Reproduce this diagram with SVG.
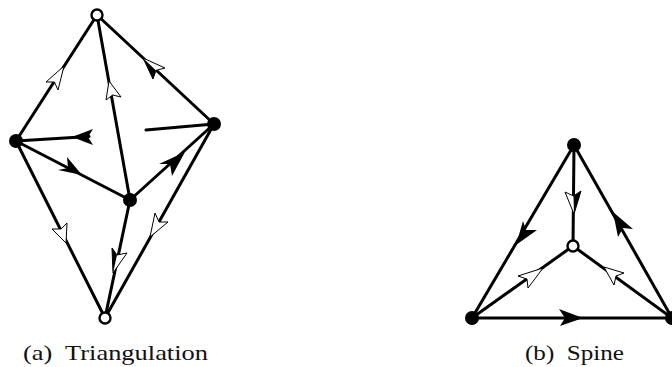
<svg xmlns="http://www.w3.org/2000/svg" width="672" height="367" viewBox="0 0 672 367">
<style>
.e{stroke:#000;stroke-width:3;fill:none;stroke-linecap:round}
.w{fill:#fff;stroke:#000;stroke-width:1;stroke-linejoin:miter}
.b{fill:#000;stroke:none}
.f{fill:#000}
.o{fill:#fff;stroke:#000;stroke-width:2.4}
text{font-family:"Liberation Serif","Times New Roman",serif;font-size:21px;fill:#111}
</style>
<g id="connectors">
<path class="e" d="M16 141L97 15"/>
<path class="e" d="M130 200L97 15"/>
<path class="e" d="M214 124L97 15"/>
<path class="e" d="M16 141L89 136.500"/>
<path class="e" d="M214 124L146 130"/>
<path class="e" d="M16 141L130 200"/>
<path class="e" d="M130 200L214 124"/>
<path class="e" d="M16 141L105 318"/>
<path class="e" d="M130 200L105 318"/>
<path class="e" d="M214 124L105 318"/>
<path class="e" d="M574 145L472 318"/>
<path class="e" d="M574 145L573 246"/>
<path class="e" d="M672 318L574 145"/>
<path class="e" d="M472 318L573 246"/>
<path class="e" d="M672 318L573 246"/>
<path class="e" d="M472 318L672 318"/>
<path class="w" d="M64 66L46 82L54.400 82L58 90Z"/>
<path class="w" d="M109 81L106 100L112.600 95L121 97Z"/>
<path class="w" d="M143 58L165 68L156 70.400L153 79Z"/>
<path class="b" d="M143 58L156 70.400L153 79Z"/>
<path class="b" d="M72 137L93 129L88 137L93 145Z"/>
<path class="b" d="M82 175L67 157L68 168L58 170Z"/>
<path class="b" d="M185 152L159 164L170 164L172 176Z"/>
<path class="w" d="M66 243L52 229L61 229L67 223Z"/>
<path class="w" d="M113 273L112 248L117 255L127 253Z"/>
<path class="b" d="M113 273L112 248L117 255Z"/>
<path class="w" d="M150 237L155 213L159 222L168 222Z"/>
<path class="b" d="M516 245L523 221L526 230L537 230Z"/>
<path class="w" d="M574 214L565 192L573.500 196L581 191Z"/>
<path class="b" d="M574 214L573.500 196L581 191Z"/>
<path class="b" d="M613 212L618 237L623 228L633 229Z"/>
<path class="w" d="M543 268L518 276L527 279L528 288Z"/>
<path class="w" d="M604 267L624 273L616 276L614 285Z"/>
<path class="b" d="M583 318L559 309L565 318L560 326Z"/>
</g>
<g id="n1"><circle class="o" cx="97" cy="15" r="5.500"/></g>
<g id="n2"><circle class="f" cx="16" cy="141" r="7"/></g>
<g id="n3"><circle class="f" cx="214" cy="124" r="7"/></g>
<g id="n4"><circle class="f" cx="130" cy="200" r="7"/></g>
<g id="n5"><circle class="o" cx="105" cy="318" r="5.500"/></g>
<g id="n6"><circle class="f" cx="574" cy="145" r="7"/></g>
<g id="n7"><circle class="f" cx="472" cy="318" r="7"/></g>
<g id="n8"><circle class="f" cx="672" cy="318" r="7"/></g>
<g id="n9"><circle class="o" cx="573" cy="246" r="5.500"/></g>
<text x="23" y="360" textLength="185" lengthAdjust="spacingAndGlyphs" xml:space="preserve">(a)  Triangulation</text>
<text x="525" y="360" textLength="99" lengthAdjust="spacingAndGlyphs" xml:space="preserve">(b)  Spine</text>
</svg>
